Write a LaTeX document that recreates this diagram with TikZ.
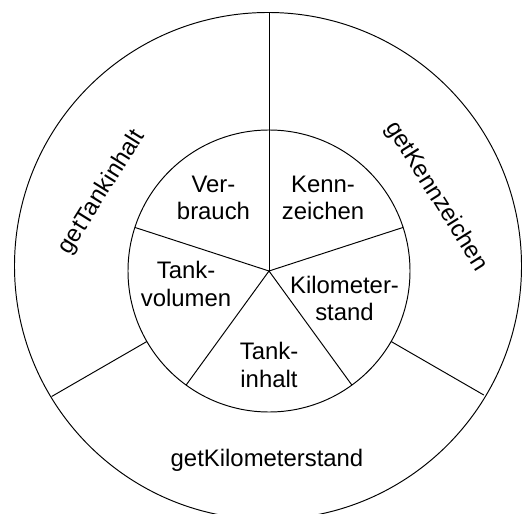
\documentclass[tikz,border=0pt]{standalone}
\usepackage{fontspec}
\setmainfont{Liberation Sans}
\usepackage{tikz}

\begin{document}
\begin{tikzpicture}[x=0.02cm, y=0.02cm, line width=0.55pt,
    lbl/.style={align=center, inner sep=0pt, font=\fontsize{13.6}{15.6}\selectfont}]
    % visible area
    \clip (-269,-242) rectangle (257,271);

    % draw circles
    \draw (-1,5) circle (253.5);
    \draw (0,0) circle (141);

    % draw lines of the outer ring
    \foreach \a/\r in {90/258.5, 210/251, 330/248}
      \draw (\a:141) -- (\a:\r);

    % draw lines of the inner circle
    \foreach \a in {18,90,162,234,306}
      \draw (0,0) -- (\a:141);

    % draw inner labels
    \node[lbl] (verbrauch) at (-55.5,73) {Ver-\\brauch};
    \node[lbl] (kennzeichen) at (54,73) {Kenn-\\zeichen};
    \node[lbl] (tankvolumen) at (-83,-13) {Tank-\\volumen};
    \node[lbl] (kilometerstand) at (75.5,-27.5) {Kilometer-\\stand};
    \node[lbl] (tankinhalt) at (0,-94) {Tank-\\inhalt};

    % draw outer labels
    \node[lbl, rotate=58] (gettankinhalt) at (-167,78.5) {getTankinhalt};
    \node[lbl, rotate=-58] (getkennzeichen) at (167.5,74.5) {getKennzeichen};
    \node[lbl] (getkilometerstand) at (-2,-189) {getKilometerstand};
  \end{tikzpicture}
\end{document}
